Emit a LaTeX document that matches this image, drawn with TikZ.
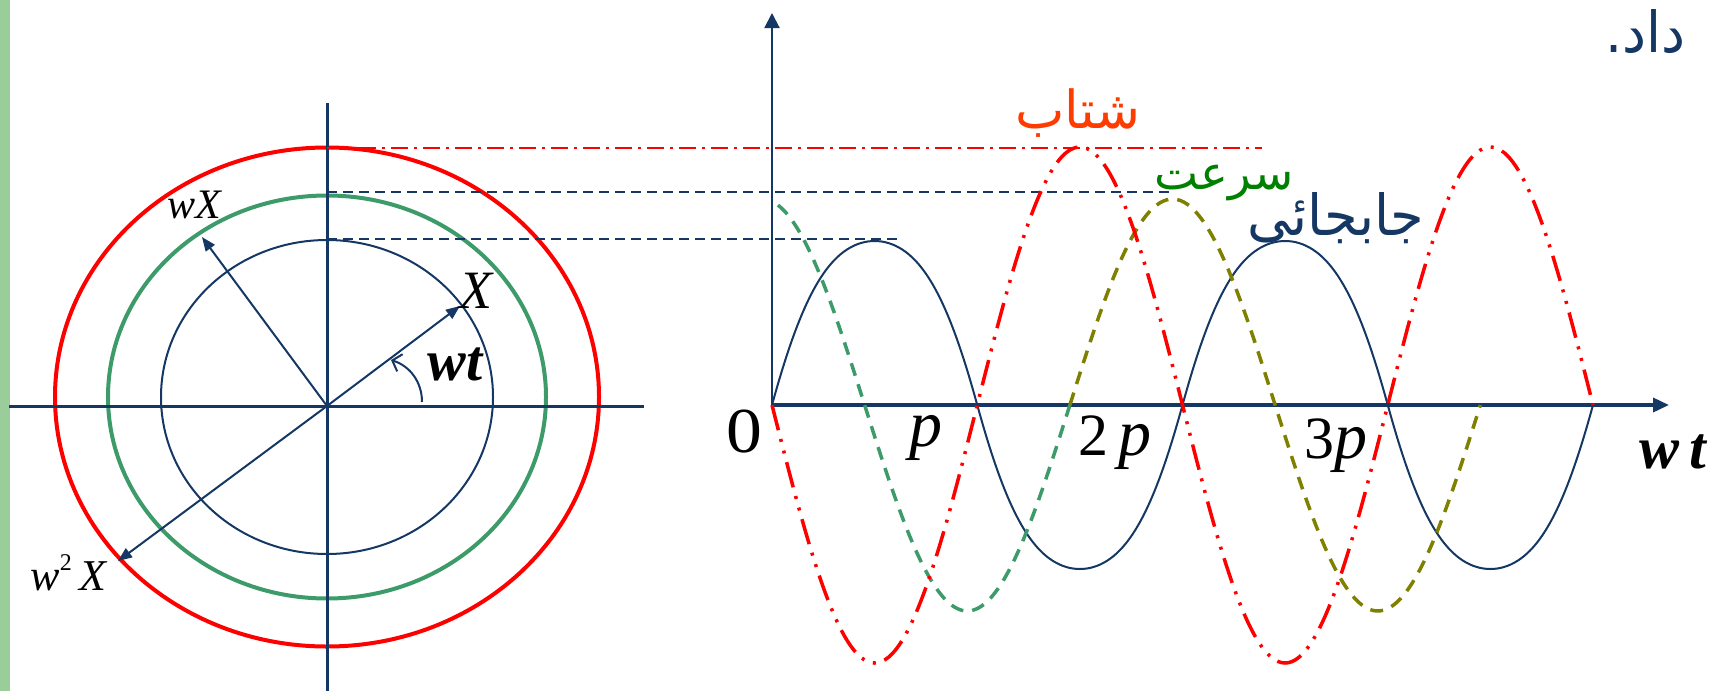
\documentclass[tikz,border=0pt]{standalone}
\usepackage{fontspec}
\setmainfont{Liberation Serif}
\newfontfamily\arabicfont[Script=Arabic]{DejaVu Sans}
\TeXXeTstate=1
\usetikzlibrary{arrows.meta}
\definecolor{navy}{RGB}{20,55,100}
\definecolor{myred}{RGB}{255,0,0}
\definecolor{sgreen}{RGB}{60,155,105}
\definecolor{olivec}{RGB}{128,128,0}
\definecolor{bargreen}{RGB}{155,205,155}
\definecolor{orred}{RGB}{255,60,0}
\definecolor{dgreen}{RGB}{0,128,0}
\begin{document}
\begin{tikzpicture}[x=1pt,y=-1pt,
  lbl/.style={inner sep=0pt, anchor=base, text=black},
  arlbl/.style={inner sep=0pt, anchor=base},
  radvec/.style={navy, line width=2pt, -{Triangle[length=14pt,width=11pt]}},
  guide/.style={navy, line width=2.5pt, dash pattern=on 10pt off 6pt},
  accguide/.style={myred, line width=2.5pt, dash pattern=on 17pt off 6pt on 3pt off 6pt},
  dispc/.style={navy, line width=2pt},
  velc/.style={line width=3.5pt, dash pattern=on 13pt off 9pt},
  accc/.style={myred, line width=3.5pt, dash pattern=on 26pt off 9pt on 3pt off 9pt on 3pt off 9pt}]
\useasboundingbox (0,0) rectangle (1710,691);
\fill[bargreen] (0,0) rectangle (10,691);
% ---------- left: rotating vectors ----------
\coordinate (O) at (327,406);
\coordinate (C) at (327,397);
\draw[myred, line width=4pt] (C) ellipse [x radius=272pt, y radius=249.5pt];
\draw[sgreen, line width=4pt] (C) ellipse [x radius=219pt, y radius=201.5pt];
\draw[navy, line width=2pt] (C) ellipse [x radius=166pt, y radius=157pt];
\coordinate (hl) at (9,406);
\coordinate (hr) at (644,406);
\coordinate (vt) at (327,103);
\coordinate (vb) at (327,691);
\draw[navy, line width=3pt] (hl) -- (hr);
\draw[navy, line width=3pt] (vt) -- (vb);
\coordinate (tipX) at (460,306);
\coordinate (tipV) at (202,237);
\coordinate (tipA) at (118,561);
\draw[radvec] (O) -- (tipX);
\draw[radvec] (O) -- (tipV);
\draw[radvec] (O) -- (tipA);
\coordinate (arcs) at (422,402);
\coordinate (arce) at (391,360);
\draw[navy, line width=2pt, -{Straight Barb[length=8pt,width=18pt]}] (arcs) .. controls (422,382) and (410,366) .. (arce);
\node[lbl, font=\fontsize{54}{54}\selectfont\itshape] (lX) at (476,308) {X};
\node[lbl, font=\fontsize{58}{58}\selectfont\bfseries\itshape] (lwt) at (455,380) {wt};
\node[lbl, font=\fontsize{42}{42}\selectfont\itshape] (lwX) at (194,218) {wX};
\node[lbl, font=\fontsize{44}{44}\selectfont] (lw2X) at (69,590) {\textit{w}\raisebox{0.45em}{\fontsize{24}{24}\selectfont 2}\,\textit{X}};
% ---------- guides ----------
\coordinate (ga1) at (327,148);
\coordinate (ga2) at (1262,148);
\coordinate (gv1) at (327,192);
\coordinate (gv2) at (1172,192);
\coordinate (gx1) at (327,239);
\coordinate (gx2) at (897,239);
\draw[accguide] (ga1) -- (ga2);
\draw[guide] (gv1) -- (gv2);
\draw[guide] (gx1) -- (gx2);
% ---------- right: time graphs ----------
\coordinate (T0) at (772,405);
\coordinate (Ttop) at (772,13);
\coordinate (Tend) at (1669,405);
\draw[navy, line width=2pt, -{Triangle[length=15pt,width=15pt]}] (T0) -- (Ttop);
\draw[navy, line width=3.5pt, -{Triangle[length=16pt,width=14pt]}] (T0) -- (Tend);
\draw[dispc] plot[domain=0:720, samples=241, smooth] ({772+\x/180*205.25}, {405-164*sin(\x)*(1.45-0.45*abs(sin(\x)))});
\draw[velc, sgreen] plot[domain=14:270, samples=90, smooth] ({762+\x/180*205.25}, {405-206*cos(\x)});
\draw[velc, olivec] plot[domain=270:630, samples=120, smooth] ({762+\x/180*205.25}, {405-206*cos(\x)});
\draw[accc] plot[domain=0:720, samples=241, smooth] ({772+\x/180*205.25}, {405+258*sin(\x)});
\node[lbl, font=\fontsize{64}{64}\selectfont] (l0) at (744,452) {\scalebox{1.12}[1]{0}};
\node[lbl, font=\fontsize{66}{66}\selectfont\itshape] (lp) at (926,446) {p};
\node[lbl, font=\fontsize{60}{60}\selectfont] (l2p) at (1115,455) {2\,{\fontsize{66}{66}\selectfont\itshape p}};
\node[lbl, font=\fontsize{60}{60}\selectfont] (l3p) at (1336,458) {3{\fontsize{66}{66}\selectfont\itshape p}};
\node[lbl, font=\fontsize{60}{60}\selectfont\bfseries\itshape] (lwt2) at (1673,468) {w\,t};
% ---------- Persian labels ----------
\node[arlbl, text=orred] (acc) at (1078,128) {\resizebox{125pt}{!}{\arabicfont\beginR شتاب\endR}};
\node[arlbl, text=dgreen] (vel) at (1224,189) {\resizebox{139pt}{!}{\arabicfont\beginR سرعت\endR}};
\node[arlbl, text=navy] (disp) at (1336,235) {\resizebox{177pt}{43pt}{\arabicfont\beginR جابجائی\endR}};
\node[arlbl, text=navy] (dad) at (1645,52) {\resizebox{80pt}{43pt}{\arabicfont\beginR داد.\endR}};
\end{tikzpicture}
\end{document}
